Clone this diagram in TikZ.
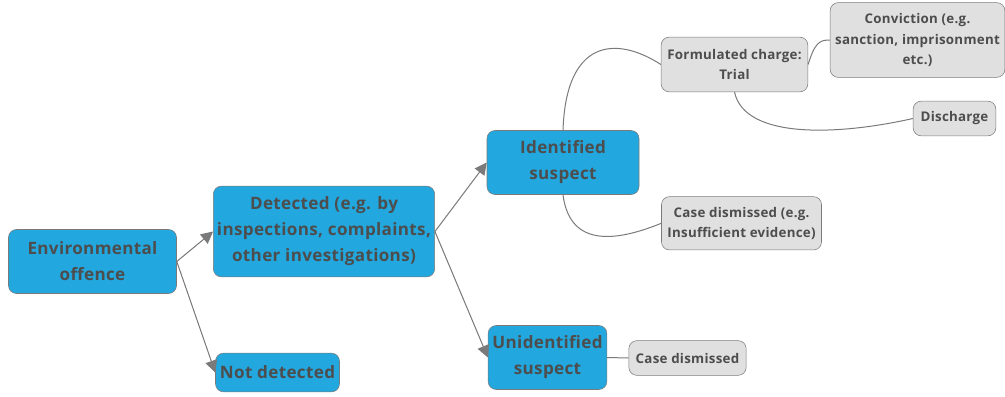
\documentclass[tikz,border=0pt]{standalone}
\usepackage{fontspec}
\setmainfont{Open Sans}[LetterSpace=2]
\usetikzlibrary{arrows.meta}
\definecolor{boxblue}{HTML}{22A7DE}
\definecolor{boxgray}{HTML}{E0E0E0}
\definecolor{inkgray}{HTML}{4D4D4D}
\definecolor{linegray}{HTML}{7A7A7A}
\begin{document}
\begin{tikzpicture}[x=0.75pt, y=-0.75pt]
	\tikzstyle{stage} = [draw=linegray, fill=boxblue, rounded corners=6pt, align=center, text=inkgray, font=\bfseries\fontsize{12.8}{19.5}\selectfont, inner sep=0pt]
	\tikzstyle{outcome} = [draw=linegray, fill=boxgray, rounded corners=6pt, align=center, text=inkgray, font=\bfseries\fontsize{10}{15.3}\selectfont, inner sep=0pt]
	\tikzstyle{link} = [draw=linegray, line width=0.75pt]
	\tikzstyle{arrow} = [link, -{Triangle[length=9pt, width=9pt]}, fill=linegray]
	\useasboundingbox (0,0) rectangle (1005,396);
	\node [stage, minimum width=126pt, minimum height=48pt] (Offence) at (92.5, 261.5) {Environmental\\offence};
	\node [stage, minimum width=166pt, minimum height=68pt] (Detected) at (324, 231.5) {Detected (e.g. by\\inspections, complaints,\\other investigations)};
	\node [stage, minimum width=93pt, minimum height=29pt] (NotDetected) at (277.5, 372.5) {Not detected};
	\node [stage, minimum width=114pt, minimum height=48pt] (Identified) at (563, 162.5) {Identified\\suspect};
	\node [stage, minimum width=89pt, minimum height=48pt] (Unidentified) at (547.5, 357.5) {Unidentified\\suspect};
	\node [outcome, minimum width=120pt, minimum height=40pt] (Insufficient) at (741.5, 223.3) {Case dismissed (e.g.\\Insufficient evidence)};
	\node [outcome, minimum width=88pt, minimum height=26pt] (Dismissed) at (687.5, 358) {Case dismissed};
	\node [outcome, minimum width=110pt, minimum height=41pt] (Charge) at (734.5, 64.5) {Formulated charge:\\Trial};
	\node [outcome, minimum width=131pt, minimum height=56pt] (Conviction) at (917.5, 40) {Conviction (e.g.\\sanction, imprisonment\\etc.)};
	\node [outcome, minimum width=62pt, minimum height=26pt] (Discharge) at (954.5, 118.5) {Discharge};
	\draw [arrow] (Offence.east) -- (Detected.west);
	\draw [arrow] (Offence.east) -- (NotDetected.west);
	\draw [arrow] (Detected.east) -- (Identified.west);
	\draw [arrow] (Detected.east) -- (Unidentified.west);
	\draw [link] (Identified.north) .. controls (566, 40) and (615, 35) .. (Charge.west);
	\draw [link] (Identified.south) .. controls (570, 250) and (620, 240) .. (Insufficient.west);
	\draw [link] (Charge.south) .. controls (745, 140) and (840, 135) .. (Discharge.west);
	\draw [link] (Charge.east) .. controls (815, 42) and (820, 40) .. (Conviction.west);
	\draw [link] (Unidentified.east) -- (Dismissed.west);
\end{tikzpicture}
\end{document}
